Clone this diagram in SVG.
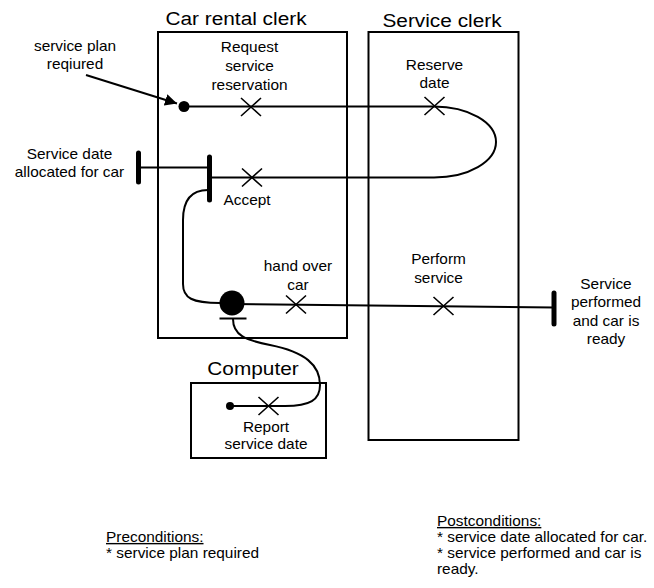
<svg xmlns="http://www.w3.org/2000/svg" width="654" height="588" viewBox="0 0 654 588">
  <style>
    .lane { fill: none; stroke: #000; stroke-width: 2; }
    .title { font-family: "Liberation Sans", Arial, sans-serif; font-size: 18.6px; text-anchor: middle; fill: #000; }
    .lbl { font-family: "Liberation Sans", Arial, sans-serif; font-size: 14px; text-anchor: middle; fill: #000; }
    .note { font-family: "Liberation Sans", Arial, sans-serif; font-size: 14px; text-anchor: start; fill: #000; }
    .wire { fill: none; stroke: #000; stroke-width: 2; }
    .cross { fill: none; stroke: #000; stroke-width: 1.6; }
    .bar { stroke: #000; stroke-width: 5; stroke-linecap: round; }
  </style>
  <defs>
    <marker id="arrow" viewBox="0 0 10 10" refX="10" refY="5" markerWidth="6" markerHeight="6" markerUnits="strokeWidth" orient="auto">
      <path d="M0,0 L10,5 L0,10 z" fill="#000"/>
    </marker>
    <path id="x" class="cross" d="M-10,-9 L10,9 M-10,9 L10,-9"/>
  </defs>
  <rect width="654" height="588" fill="#fff"/>

  <!-- swimlanes -->
  <g id="lane-car-rental-clerk">
    <rect class="lane" x="158" y="32" width="189" height="306"/>
    <text class="title" transform="translate(236,25) scale(1.12,1)" x="0" y="0">Car rental clerk</text>
  </g>
  <g id="lane-service-clerk">
    <rect class="lane" x="368.5" y="32" width="150" height="408"/>
    <text class="title" transform="translate(442,27) scale(1.12,1)" x="0" y="0">Service clerk</text>
  </g>
  <g id="lane-computer">
    <rect class="lane" x="191" y="383" width="135" height="75"/>
    <text class="title" transform="translate(253,375) scale(1.12,1)" x="0" y="0">Computer</text>
  </g>

  <!-- connectors -->
  <g id="connectors">
    <line class="wire" x1="86" y1="75" x2="177" y2="103.5" marker-end="url(#arrow)"/>
    <path class="wire" d="M184,106.5 H434 A62,35.5 0 0 1 434,177.5 H209.5"/>
    <line class="wire" x1="138.5" y1="167.5" x2="209.5" y2="167.5"/>
    <path class="wire" d="M208,190 C191,190 183,200 183,220 V284 C183,298 192,303 220,303"/>
    <path class="wire" d="M232,304 L554,307.5"/>
    <path class="wire" d="M233,319 C233,335 245,340 270,345 C305,352 320,365 320,385 C320,400 310,406 285,406 H230"/>
  </g>

  <!-- start: service plan required -->
  <g id="start-service-plan">
    <circle cx="184" cy="106.5" r="5.5" fill="#000"/>
    <text class="lbl" transform="translate(75,0) scale(1.1,1)"><tspan x="0" y="51">service plan</tspan><tspan x="0" y="69.5">reqiured</tspan></text>
  </g>

  <!-- request service reservation -->
  <g id="request-service-reservation">
    <use href="#x" x="251" y="107"/>
    <text class="lbl" transform="translate(249.5,0) scale(1.1,1)"><tspan x="0" y="52">Request</tspan><tspan x="0" y="71">service</tspan><tspan x="0" y="90">reservation</tspan></text>
  </g>

  <!-- reserve date -->
  <g id="reserve-date">
    <use href="#x" x="434.5" y="106"/>
    <text class="lbl" transform="translate(434.5,0) scale(1.1,1)"><tspan x="0" y="70">Reserve</tspan><tspan x="0" y="88.5">date</tspan></text>
  </g>

  <!-- accept -->
  <g id="accept">
    <line class="bar" x1="209.5" y1="157" x2="209.5" y2="200"/>
    <use href="#x" x="252" y="177.5"/>
    <text class="lbl" transform="translate(247,0) scale(1.1,1)" x="0" y="205">Accept</text>
  </g>

  <!-- end: service date allocated for car -->
  <g id="end-service-date">
    <line class="bar" x1="138.5" y1="153" x2="138.5" y2="182"/>
    <text class="lbl" transform="translate(69.5,0) scale(1.1,1)"><tspan x="0" y="159.5">Service date</tspan><tspan x="0" y="177">allocated for car</tspan></text>
  </g>

  <!-- hand over car -->
  <g id="hand-over-car">
    <circle cx="232" cy="303" r="12.5" fill="#000"/>
    <line x1="219.5" y1="318.5" x2="246.5" y2="318.5" stroke="#000" stroke-width="2"/>
    <use href="#x" x="296" y="304.5"/>
    <text class="lbl" transform="translate(298,0) scale(1.1,1)"><tspan x="0" y="271">hand over</tspan><tspan x="0" y="290">car</tspan></text>
  </g>

  <!-- perform service -->
  <g id="perform-service">
    <use href="#x" x="443.5" y="306"/>
    <text class="lbl" transform="translate(438.5,0) scale(1.1,1)"><tspan x="0" y="264.5">Perform</tspan><tspan x="0" y="283">service</tspan></text>
  </g>

  <!-- end: service performed and car is ready -->
  <g id="end-service-performed">
    <line class="bar" x1="554" y1="293" x2="554" y2="324"/>
    <text class="lbl" transform="translate(606,0) scale(1.1,1)"><tspan x="0" y="289">Service</tspan><tspan x="0" y="307.5">performed</tspan><tspan x="0" y="326">and car is</tspan><tspan x="0" y="344.5">ready</tspan></text>
  </g>

  <!-- report service date -->
  <g id="report-service-date">
    <circle cx="230" cy="406" r="4" fill="#000"/>
    <use href="#x" x="268.5" y="406"/>
    <text class="lbl" transform="translate(266,0) scale(1.1,1)"><tspan x="0" y="432">Report</tspan><tspan x="0" y="449.5">service date</tspan></text>
  </g>

  <!-- conditions -->
  <g id="preconditions">
    <text class="note" transform="translate(106,0) scale(1.1,1)"><tspan x="0" y="542" text-decoration="underline">Preconditions:</tspan><tspan x="0" y="558">* service plan required</tspan></text>
  </g>
  <g id="postconditions">
    <text class="note" transform="translate(437,0) scale(1.1,1)"><tspan x="0" y="526" text-decoration="underline">Postconditions:</tspan><tspan x="0" y="542">* service date allocated for car.</tspan><tspan x="0" y="558">* service performed and car is</tspan><tspan x="0" y="574">ready.</tspan></text>
  </g>
</svg>
